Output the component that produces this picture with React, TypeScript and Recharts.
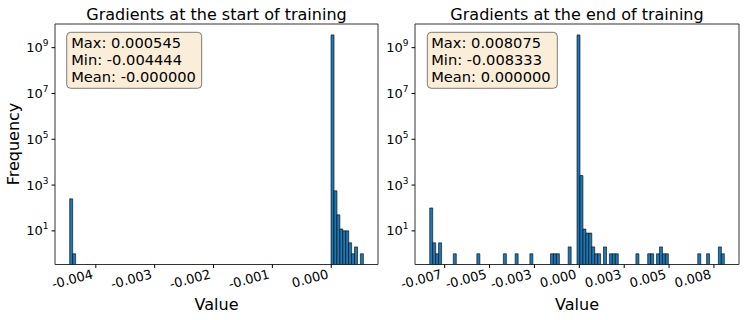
import { BarChart, Bar, XAxis, YAxis, ReferenceArea } from 'recharts';

const FONT = '"DejaVu Sans", Verdana, sans-serif';
const BLUE = '#1f77b4';
const N_BINS = 100;

// start of training: value range + non-empty bins (bin index -> count)
const startMin = -0.004444;
const startMax = 0.000545;
const startMean = '-0.000000';
const startBins = [0, 1, 89, 90, 91, 92, 93, 94, 95, 96, 97, 99];
const startCounts = [250, 1, 3.6e9, 560, 50, 12, 10, 10, 3, 1, 2, 1];
const startTicks = [-0.004, -0.003, -0.002, -0.001, 0];
const startTickLabels = ['-0.004', '-0.003', '-0.002', '-0.001', '0.000'];

// end of training
const endMin = -0.008333;
const endMax = 0.008075;
const endMean = '0.000000';
const endBins = [
	0, 1, 2, 3, 8, 16, 25, 29, 34, 41, 42, 43, 47, 50, 51, 52, 53, 54, 55, 56, 57,
	59, 61, 62, 63, 70, 74, 75, 77, 78, 79, 80, 91, 94, 98, 99,
];
const endCounts = [
	100, 3, 1, 3, 1, 1, 1, 1, 1, 1, 1, 1, 2, 3.6e9, 2600, 12, 8, 8, 2, 1, 1,
	2, 1, 1, 1, 1, 1, 1, 1, 2, 1, 1, 1, 1, 2, 1,
];
const endTicks = [-0.0075, -0.005, -0.0025, 0, 0.0025, 0.005, 0.0075];
const endTickLabels = ['-0.007', '-0.005', '-0.003', '0.000', '0.003', '0.005', '0.008'];

const yTicks = [1e1, 1e3, 1e5, 1e7, 1e9];
const yDomain = [0.34, 1.08e10];

const makeBins = (min, max, bins, counts) => {
	const w = (max - min) / N_BINS;
	return bins.map((b, i) => ({ x: min + (b + 0.5) * w, count: counts[i] }));
};

const padDomain = (min, max) => {
	const pad = (max - min) * 0.05;
	return [min - pad, max + pad];
};

const YTick = ({ x, y, payload }) => {
	const exp = Math.round(Math.log10(payload.value));
	return (
		<text x={x} y={y} dy={4.5} textAnchor="end" fontSize={13} fill="#000" fontFamily={FONT}>
			10
			<tspan dy={-6} fontSize={9}>
				{exp}
			</tspan>
		</text>
	);
};

const makeXTick = (ticks, labels) => ({ x, y, payload }) => {
	const idx = ticks.findIndex((t) => Math.abs(t - payload.value) < 1e-9);
	const ax = x - 2;
	const ay = y + 10;
	return (
		<text
			x={ax}
			y={ay}
			textAnchor="end"
			fontSize={13}
			fill="#000"
			fontFamily={FONT}
			transform={`rotate(-15, ${ax}, ${ay})`}
		>
			{idx >= 0 ? labels[idx] : ''}
		</text>
	);
};

const Hist = ({ data, domain, ticks, labels, width, margin, yWidth }) => (
	<BarChart width={width} height={320} data={data} margin={margin} barCategoryGap={0} barGap={0}>
		<XAxis
			type="number"
			dataKey="x"
			domain={domain}
			allowDataOverflow
			ticks={ticks}
			interval={0}
			height={30}
			tickSize={3.5}
			tickMargin={0}
			axisLine={false}
			tickLine={{ stroke: '#000' }}
			tick={makeXTick(ticks, labels)}
		/>
		<YAxis
			type="number"
			scale="log"
			domain={yDomain}
			allowDataOverflow
			ticks={yTicks}
			interval={0}
			width={yWidth}
			tickSize={3.5}
			tickMargin={3}
			axisLine={false}
			tickLine={{ stroke: '#000' }}
			tick={<YTick />}
		/>
		<Bar dataKey="count" fill={BLUE} stroke="#000" strokeWidth={0.6} isAnimationActive={false} />
		<ReferenceArea
			x1={domain[0]}
			x2={domain[1]}
			y1={yDomain[0]}
			y2={yDomain[1]}
			fill="none"
			stroke="#333"
			strokeWidth={1}
			ifOverflow="visible"
		/>
	</BarChart>
);

const StatsBox = ({ x, w, textX, max, min, mean }) => (
	<g fontFamily={FONT} fontSize={14.67} fill="#000">
		<rect x={x} y={32.3} width={w} height={56} rx={4} fill="#f5deb3" fillOpacity={0.5} stroke="#000" strokeOpacity={0.5} />
		<text x={textX} y={48.3}>Max: {max}</text>
		<text x={textX} y={65}>Min: {min}</text>
		<text x={textX} y={81.7}>Mean: {mean}</text>
	</g>
);

export default function App() {
	const startData = makeBins(startMin, startMax, startBins, startCounts);
	const endData = makeBins(endMin, endMax, endBins, endCounts);
	return (
		<div style={{ position: 'absolute', left: 0, top: 0, width: 747, height: 320, background: '#fff' }}>
			<div style={{ position: 'absolute', left: 0, top: 0 }}>
				<Hist
					data={startData}
					domain={padDomain(startMin, startMax)}
					ticks={startTicks}
					labels={startTickLabels}
					width={395}
					yWidth={50}
					margin={{ top: 24, right: 17, bottom: 25.5, left: 5 }}
				/>
			</div>
			<div style={{ position: 'absolute', left: 380, top: 0 }}>
				<Hist
					data={endData}
					domain={padDomain(endMin, endMax)}
					ticks={endTicks}
					labels={endTickLabels}
					width={367}
					yWidth={30}
					margin={{ top: 24, right: 8, bottom: 25.5, left: 5 }}
				/>
			</div>
			<svg width={747} height={320} style={{ position: 'absolute', left: 0, top: 0, pointerEvents: 'none' }}>
				<g fontFamily={FONT} fill="#000">
					<text x={216.5} y={20} fontSize={16} textAnchor="middle">Gradients at the start of training</text>
					<text x={577} y={20} fontSize={16} textAnchor="middle">Gradients at the end of training</text>
					<text x={216.5} y={310} fontSize={16} textAnchor="middle">Value</text>
					<text x={577} y={310} fontSize={16} textAnchor="middle">Value</text>
					<text x={19} y={144} fontSize={16} textAnchor="middle" transform="rotate(-90, 19, 144)">Frequency</text>
				</g>
				<StatsBox x={66.7} w={135} textX={71.2} max={startMax.toFixed(6)} min={startMin.toFixed(6)} mean={startMean} />
				<StatsBox x={427.3} w={130} textX={431.2} max={endMax.toFixed(6)} min={endMin.toFixed(6)} mean={endMean} />
			</svg>
		</div>
	);
}
